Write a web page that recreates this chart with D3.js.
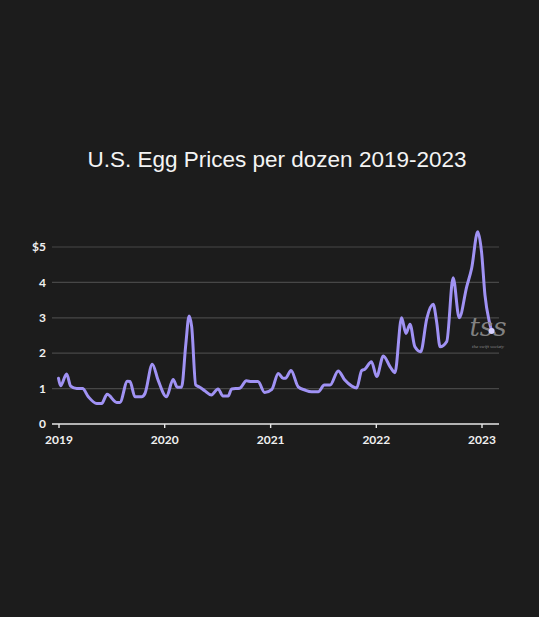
<!DOCTYPE html>
<html>
<head>
<meta charset="utf-8">
<script src="https://cdn.jsdelivr.net/npm/d3@7"></script>
<style>
  html, body { margin: 0; padding: 0; background: #1c1c1c; }
  svg { display: block; }
</style>
</head>
<body>
<div id="chart"></div>
<script>
// weekly-ish readings of the average price for a dozen eggs (USD)
var dates = [
  '2019-01-01','2019-01-08','2019-01-29','2019-02-12','2019-03-05','2019-03-25','2019-04-14',
  '2019-05-13','2019-05-30','2019-06-18','2019-07-21','2019-08-01','2019-08-27','2019-09-05',
  '2019-09-22','2019-10-15','2019-10-27','2019-11-21','2019-12-11',
  '2020-01-09','2020-02-01','2020-02-15','2020-03-01','2020-03-16','2020-03-27','2020-04-05',
  '2020-04-19','2020-05-03','2020-05-20','2020-06-12','2020-07-05','2020-07-22','2020-08-09',
  '2020-08-21','2020-09-18','2020-10-11','2020-10-28','2020-11-20','2020-12-13',
  '2021-01-07','2021-01-29','2021-02-15','2021-02-23','2021-03-14','2021-04-08','2021-05-01',
  '2021-05-24','2021-06-16','2021-07-07','2021-07-27','2021-08-24','2021-09-16','2021-10-10',
  '2021-10-27','2021-11-13','2021-11-24','2021-12-17',
  '2022-01-04','2022-01-27','2022-02-19','2022-03-08','2022-03-31','2022-04-15','2022-04-29',
  '2022-05-16','2022-06-05','2022-06-26','2022-07-18','2022-07-30','2022-08-11','2022-09-03',
  '2022-09-25','2022-10-16','2022-11-11','2022-11-28','2022-12-19',
  '2023-01-01','2023-01-13','2023-01-28','2023-02-05'
];
var prices = [
  1.29,1.08,1.41,1.07,1.00,1.00,0.77,
  0.58,0.58,0.84,0.61,0.61,1.21,1.20,
  0.77,0.77,0.87,1.69,1.24,
  0.77,1.26,1.04,1.04,2.28,3.05,2.75,
  1.10,1.04,0.94,0.82,0.99,0.79,0.79,
  0.99,1.01,1.22,1.20,1.20,0.89,
  0.98,1.43,1.29,1.29,1.51,1.05,0.96,
  0.91,0.91,1.10,1.10,1.50,1.24,1.07,
  1.02,1.51,1.55,1.76,
  1.34,1.92,1.62,1.45,3.00,2.56,2.82,
  2.18,2.04,2.98,3.38,2.89,2.18,2.33,
  4.13,3.00,3.88,4.40,5.43,
  4.87,3.64,2.89,2.63
];
var yTicks = [0, 1, 2, 3, 4, 5];
var xTicks = ['2019-01-01','2020-01-01','2021-01-01','2022-01-01','2023-01-01'];

var W = 539, H = 617;
var margin = {top: 247, left: 58.5, right: 539 - 481.5, bottom: 617 - 424};
var parse = d3.timeParse('%Y-%m-%d');

var data = dates.map(function(d, i){
    return {date: parse(d), value: prices[i]};
});

var svg = d3.select('#chart').append('svg')
    .attr('width', W)
    .attr('height', H);

svg.append('rect')
    .attr('width', W).attr('height', H)
    .attr('fill', '#1c1c1c');

svg.append('text')
    .attr('x', 277)
    .attr('y', 167)
    .attr('text-anchor', 'middle')
    .attr('fill', '#f4f4f4')
    .style('font-family', 'Liberation Sans, Arial, sans-serif')
    .style('font-size', '22.5px')
    .text('U.S. Egg Prices per dozen 2019-2023');

var x = d3.scaleTime()
    .domain([parse(xTicks[0]), parse(xTicks[4])])
    .range([margin.left, W - margin.right]);

var y = d3.scaleLinear()
    .domain([0, 5])
    .range([H - margin.bottom, margin.top]);

var gridLeft = 52, gridRight = 499;

// horizontal grid
svg.append('g').selectAll('line.grid')
    .data(yTicks.slice(1))
    .enter().append('line')
    .attr('class', 'grid')
    .attr('x1', gridLeft).attr('x2', gridRight)
    .attr('y1', function(d){ return y(d); })
    .attr('y2', function(d){ return y(d); })
    .attr('stroke', '#474747')
    .attr('stroke-width', 1.2);

// y labels
svg.append('g').selectAll('text.ylab')
    .data(yTicks)
    .enter().append('text')
    .attr('class', 'ylab')
    .attr('x', 46)
    .attr('y', function(d){ return y(d); })
    .attr('dy', '0.35em')
    .attr('text-anchor', 'end')
    .attr('fill', '#f0f0f0')
    .style('font-family', 'Lato, Open Sans, sans-serif')
    .style('font-weight', 'bold')
    .style('font-size', '12px')
    .text(function(d){ return d === 5 ? '$5' : d; });

// x axis
var xAxis = d3.axisBottom(x)
    .tickValues(xTicks.map(parse))
    .tickFormat(d3.timeFormat('%Y'))
    .tickSize(4)
    .tickSizeOuter(0);

var gx = svg.append('g')
    .attr('transform', 'translate(0,' + y(0) + ')')
    .call(xAxis);

gx.select('.domain').remove();
gx.append('line')
    .attr('x1', gridLeft).attr('x2', gridRight)
    .attr('stroke', '#e6e6e6')
    .attr('stroke-width', 1.6);
gx.selectAll('.tick line')
    .attr('stroke', '#e6e6e6')
    .attr('stroke-width', 1.4);
gx.selectAll('.tick text')
    .attr('fill', '#f0f0f0')
    .attr('y', 11)
    .style('font-family', 'Lato, Open Sans, sans-serif')
    .style('font-weight', 'bold')
    .style('font-size', '12px');

// price line
var line = d3.line()
    .x(function(d){ return x(d.date); })
    .y(function(d){ return y(d.value); })
    .curve(d3.curveMonotoneX);

svg.append('path')
    .datum(data)
    .attr('fill', 'none')
    .attr('stroke', '#a092f4')
    .attr('stroke-width', 3)
    .attr('stroke-linejoin', 'round')
    .attr('stroke-linecap', 'round')
    .attr('d', line);

// watermark
var wm = svg.append('g').attr('class', 'watermark');
wm.append('text')
    .attr('x', 488)
    .attr('y', 336)
    .attr('text-anchor', 'middle')
    .attr('fill', '#8c8c8c')
    .attr('fill-opacity', 0.92)
    .style('font-family', 'DejaVu Serif, Liberation Serif, serif')
    .style('font-style', 'italic')
    .style('font-size', '26px')
    .text('tss');
wm.append('text')
    .attr('x', 488)
    .attr('y', 348)
    .attr('text-anchor', 'middle')
    .attr('fill', '#8c8c8c')
    .style('font-family', 'Liberation Serif, serif')
    .style('font-style', 'italic')
    .style('font-size', '5px')
    .text('the swift society');

var last = data[data.length - 1];
svg.append('circle')
    .attr('cx', x(last.date))
    .attr('cy', y(last.value))
    .attr('r', 3)
    .attr('fill', '#d8d2ff');
</script>
</body>
</html>
